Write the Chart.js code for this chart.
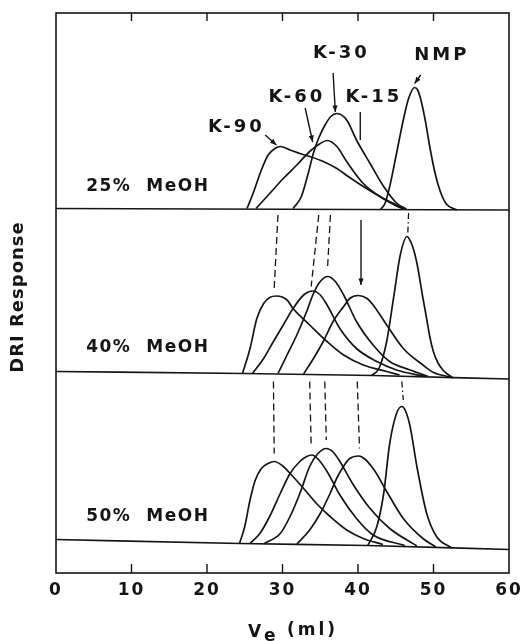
<!DOCTYPE html>
<html>
<head>
<meta charset="utf-8">
<title>DRI response vs elution volume</title>
<script src="https://cdn.jsdelivr.net/npm/chart.js@4"></script>
<style>
    html, body { margin: 0; padding: 0; background: #fff; }
    canvas { display: block; }
</style>
</head>
<body>
<canvas id="gpc" width="525" height="641"></canvas>
<script>
    const INK = "#151515";
    const FONT = '"DejaVu Sans", "Liberation Sans", sans-serif';

    // elution volume axis (ml)
    const veTicks = [0, 10, 20, 30, 40, 50, 60];

    // traces are [Ve (ml), DRI response], the three runs stacked on one axis
    // 25% MeOH
    const base25 = [[0, 72.9], [60, 72.6]];
    const k90At25 = [[25.3, 72.9], [26.1, 75.9], [27.2, 80.6], [28.1, 83.6], [29.0, 84.9], [29.7, 85.3], [31.0, 84.6], [32.5, 83.8], [33.6, 83.3], [35.4, 82.3], [37.2, 80.9], [38.7, 79.3], [40.7, 77.3], [42.9, 75.3], [45.1, 73.6], [46.2, 72.8]];
    const k60At25 = [[26.5, 72.9], [28.3, 75.9], [30.1, 78.9], [31.9, 81.6], [33.6, 84.3], [35.0, 85.9], [35.9, 86.5], [37.2, 85.3], [38.5, 82.3], [40.7, 77.9], [42.9, 75.3], [45.1, 73.4], [46.0, 72.8]];
    const k30At25 = [[31.4, 72.9], [32.5, 75.3], [33.4, 79.9], [34.1, 84.0], [34.8, 87.0], [35.6, 89.5], [36.4, 91.3], [37.2, 91.9], [38.5, 90.6], [39.8, 86.6], [41.6, 81.9], [43.4, 77.3], [45.1, 74.0], [46.4, 72.8]];
    const nmpAt25 = [[43.0, 72.7], [43.6, 74.0], [44.2, 77.3], [45.1, 83.9], [46.0, 90.6], [46.7, 94.9], [47.5, 97.1], [47.9, 96.6], [48.3, 94.8], [48.9, 90.6], [49.5, 85.3], [50.2, 80.0], [50.9, 76.3], [51.7, 73.8], [53.1, 72.6]];

    // 40% MeOH
    const base40 = [[0, 40.3], [25, 39.9], [42, 39.5], [60, 38.8]];
    const k90At40 = [[24.7, 39.9], [25.7, 44.9], [26.6, 50.9], [27.5, 53.9], [28.3, 55.1], [29.2, 55.4], [30.6, 54.6], [31.4, 52.9], [33.6, 49.6], [35.9, 46.3], [38.1, 43.6], [40.7, 41.6], [43.8, 40.3], [45.5, 39.6]];
    const k60At40 = [[26.0, 39.9], [27.5, 42.9], [28.8, 46.3], [30.1, 49.6], [31.4, 52.9], [32.8, 55.6], [34.0, 56.4], [35.0, 55.6], [35.9, 53.6], [37.6, 48.9], [39.8, 44.9], [42.5, 42.3], [45.1, 40.6], [48.9, 39.3]];
    const k30At40 = [[29.4, 39.9], [30.6, 43.6], [31.9, 47.6], [33.2, 52.3], [34.1, 55.9], [35.0, 58.3], [36.0, 59.3], [37.0, 58.3], [38.1, 55.6], [39.8, 50.3], [42.0, 45.6], [44.2, 42.3], [46.9, 40.6], [49.3, 39.3]];
    const k15At40 = [[32.8, 39.8], [34.1, 42.9], [35.4, 46.3], [36.7, 50.3], [38.1, 53.3], [38.9, 54.9], [40.0, 55.5], [41.2, 54.9], [42.0, 53.6], [43.8, 49.6], [46.0, 44.9], [48.6, 41.6], [50.0, 40.1], [52.2, 39.2]];
    const nmpAt40 = [[41.8, 39.5], [42.8, 41.0], [43.8, 46.3], [44.7, 54.9], [45.6, 63.6], [46.5, 67.3], [47.0, 66.2], [47.4, 64.5], [47.8, 62.0], [48.6, 55.0], [49.1, 50.8], [49.5, 47.3], [50.0, 44.2], [50.6, 42.0], [51.3, 40.5], [52.6, 39.0]];

    // 50% MeOH
    const base50 = [[0, 6.7], [24.4, 5.9], [41.2, 5.5], [60, 4.7]];
    const k90At50 = [[24.3, 5.9], [25.0, 9.3], [25.7, 14.6], [26.4, 18.6], [27.2, 20.9], [28.1, 21.9], [28.9, 22.3], [30.1, 21.3], [31.2, 19.6], [32.8, 16.9], [34.5, 13.9], [36.3, 11.3], [38.5, 8.6], [40.7, 6.9], [43.3, 5.7]];
    const k60At50 = [[25.7, 5.9], [27.0, 7.9], [28.3, 11.3], [29.7, 15.9], [31.0, 19.9], [32.3, 22.3], [33.2, 23.3], [33.9, 23.6], [34.7, 22.8], [35.9, 20.3], [37.6, 15.6], [39.8, 10.9], [42.0, 7.6], [46.2, 5.5]];
    const k30At50 = [[27.6, 5.9], [29.7, 7.9], [31.0, 11.3], [32.3, 15.9], [33.6, 21.3], [34.7, 23.9], [35.8, 24.9], [36.7, 24.2], [37.6, 22.3], [39.4, 17.6], [41.6, 12.9], [44.2, 8.9], [47.8, 5.4]];
    const k15At50 = [[31.9, 5.8], [33.6, 8.6], [35.0, 11.9], [36.3, 15.9], [37.2, 19.0], [38.2, 21.6], [38.9, 22.9], [40.1, 23.4], [42.0, 20.9], [43.8, 16.3], [46.0, 10.9], [48.6, 6.9], [50.3, 5.2]];
    const nmpAt50 = [[41.3, 5.5], [42.5, 9.3], [43.4, 15.9], [44.2, 25.9], [45.1, 31.9], [45.8, 33.3], [46.3, 32.4], [46.9, 29.3], [47.8, 21.3], [49.1, 11.9], [50.4, 7.3], [52.4, 5.0]];

    // peak shift guides between runs
    const guideK90At40 = [[29.4, 71.6], [28.9, 56.9]];
    const guideK60At40 = [[34.8, 71.6], [33.8, 57.3]];
    const guideK30At40 = [[36.35, 71.6], [35.95, 60.6]];
    const guideNmpAt40 = [[46.7, 72.0], [46.6, 68.0]];
    const guideK90At50 = [[28.8, 38.3], [28.9, 23.9]];
    const guideK60At50 = [[33.6, 38.3], [33.8, 25.3]];
    const guideK30At50 = [[35.6, 38.3], [35.8, 26.6]];
    const guideK15At50 = [[39.9, 38.3], [40.2, 24.9]];
    const guideNmpAt50 = [[45.8, 38.3], [46.0, 34.6]];

    // text and pointer placement, in axis units
    const peakLabels = [
        { text: "K-90", ve: 23.7, dri: 89.1 },
        { text: "K-60", ve: 31.7, dri: 95.1 },
        { text: "K-30", ve: 37.6, dri: 104.0 },
        { text: "K-15", ve: 41.9, dri: 95.1 },
        { text: "NMP", ve: 50.9, dri: 103.6 },
    ];
    const runLabels = [
        { text: "25%  MeOH", ve: 4.0, dri: 77.2 },
        { text: "40%  MeOH", ve: 4.0, dri: 45.1 },
        { text: "50%  MeOH", ve: 4.0, dri: 11.2 },
    ];
    const pointers = [
        { from: [27.7, 87.6], to: [29.2, 85.6], head: true },
        { from: [33.0, 93.0], to: [34.0, 86.2], head: true },
        { from: [36.7, 100.0], to: [37.0, 92.2], head: true },
        { from: [40.3, 92.2], to: [40.3, 86.6], head: false },
        { from: [48.3, 99.6], to: [47.5, 97.9], head: true },
        { from: [40.4, 70.6], to: [40.4, 57.6], head: true },
    ];

    const toXY = (pts) => pts.map(([x, y]) => ({ x, y }));

    const trace = (pts) => ({
        data: toXY(pts),
        borderColor: INK,
        borderWidth: 1.7,
        pointRadius: 0,
        fill: false,
        cubicInterpolationMode: "monotone",
    });

    const guide = (pts, dash) => ({
        data: toXY(pts),
        borderColor: INK,
        borderWidth: 1.3,
        borderDash: dash,
        pointRadius: 0,
        fill: false,
        tension: 0,
    });

    const DASH = [7, 4];
    const DASH_DOT = [6, 3, 1.5, 3];

    const datasets = [
        trace(base25), trace(k90At25), trace(k60At25), trace(k30At25), trace(nmpAt25),
        trace(base40), trace(k90At40), trace(k60At40), trace(k30At40), trace(k15At40), trace(nmpAt40),
        trace(base50), trace(k90At50), trace(k60At50), trace(k30At50), trace(k15At50), trace(nmpAt50),
        guide(guideK90At40, DASH), guide(guideK60At40, DASH), guide(guideK30At40, DASH), guide(guideNmpAt40, DASH_DOT),
        guide(guideK90At50, DASH), guide(guideK60At50, DASH), guide(guideK30At50, DASH),
        guide(guideK15At50, DASH), guide(guideNmpAt50, DASH_DOT),
    ];

    function arrowHead(ctx, x0, y0, x1, y1) {
        const a = Math.atan2(y1 - y0, x1 - x0);
        const len = 7, spread = 0.38;
        ctx.beginPath();
        ctx.moveTo(x1, y1);
        ctx.lineTo(x1 - len * Math.cos(a - spread), y1 - len * Math.sin(a - spread));
        ctx.lineTo(x1 - len * Math.cos(a + spread), y1 - len * Math.sin(a + spread));
        ctx.closePath();
        ctx.fill();
    }

    // frame with inward ticks, annotations and axis titles
    const decor = {
        id: "decor",
        beforeDraw(chart) {
            chart.ctx.letterSpacing = "2px";
        },
        afterDraw(chart) {
            const { ctx, chartArea: area, scales } = chart;
            const sx = scales.x, sy = scales.y;
            ctx.save();
            ctx.letterSpacing = "0px";
            ctx.strokeStyle = INK;
            ctx.fillStyle = INK;
            ctx.lineWidth = 1.6;
            ctx.setLineDash([]);
            ctx.strokeRect(area.left, area.top, area.right - area.left, area.bottom - area.top);

            ctx.lineWidth = 1.4;
            veTicks.slice(1, -1).forEach((v) => {
                const px = sx.getPixelForValue(v);
                ctx.beginPath();
                ctx.moveTo(px, area.top);
                ctx.lineTo(px, area.top + 8);
                ctx.moveTo(px, area.bottom);
                ctx.lineTo(px, area.bottom - 9);
                ctx.stroke();
            });

            pointers.forEach((p) => {
                const x0 = sx.getPixelForValue(p.from[0]), y0 = sy.getPixelForValue(p.from[1]);
                const x1 = sx.getPixelForValue(p.to[0]), y1 = sy.getPixelForValue(p.to[1]);
                ctx.beginPath();
                ctx.moveTo(x0, y0);
                ctx.lineTo(x1, y1);
                ctx.stroke();
                if (p.head) arrowHead(ctx, x0, y0, x1, y1);
            });

            ctx.textBaseline = "middle";
            ctx.font = `bold 18px ${FONT}`;
            ctx.letterSpacing = "3px";
            ctx.textAlign = "center";
            peakLabels.forEach((l) => {
                ctx.fillText(l.text, sx.getPixelForValue(l.ve) + 1.5, sy.getPixelForValue(l.dri));
            });

            ctx.font = `bold 17px ${FONT}`;
            ctx.letterSpacing = "1.5px";
            ctx.textAlign = "left";
            runLabels.forEach((l) => {
                ctx.fillText(l.text, sx.getPixelForValue(l.ve), sy.getPixelForValue(l.dri));
            });

            // x title: V with subscript e
            ctx.textBaseline = "alphabetic";
            ctx.letterSpacing = "0px";
            ctx.font = `bold 17px ${FONT}`;
            ctx.fillText("V", 248, 637);
            ctx.fillText("e", 264, 640.5);
            ctx.letterSpacing = "3px";
            ctx.fillText("(ml)", 287, 635);

            // y title
            ctx.translate(18, 297);
            ctx.rotate(-Math.PI / 2);
            ctx.textAlign = "center";
            ctx.textBaseline = "middle";
            ctx.font = `bold 18px ${FONT}`;
            ctx.letterSpacing = "1px";
            ctx.fillText("DRI Response", 0, 0);
            ctx.restore();
        },
    };

    new Chart(document.getElementById("gpc"), {
        type: "line",
        data: { datasets },
        options: {
            responsive: false,
            animation: false,
            devicePixelRatio: 1,
            layout: { padding: { left: 56, right: 16, top: 13, bottom: 0 } },
            plugins: { legend: { display: false }, tooltip: { enabled: false } },
            scales: {
                x: {
                    type: "linear",
                    min: 0,
                    max: 60,
                    afterBuildTicks: (scale) => {
                        scale.ticks = veTicks.map((value) => ({ value }));
                    },
                    // keep the plot box fixed; labels may hang past its ends
                    afterFit: (scale) => {
                        scale.paddingLeft = 0;
                        scale.paddingRight = 0;
                        scale.height = 68;
                    },
                    grid: { display: false, drawTicks: false },
                    border: { display: false },
                    ticks: {
                        color: INK,
                        padding: 7,
                        font: { family: FONT, size: 17, weight: "bold" },
                    },
                },
                y: {
                    type: "linear",
                    min: 0,
                    max: 112,
                    display: false,
                },
            },
        },
        plugins: [decor],
    });
</script>
</body>
</html>
